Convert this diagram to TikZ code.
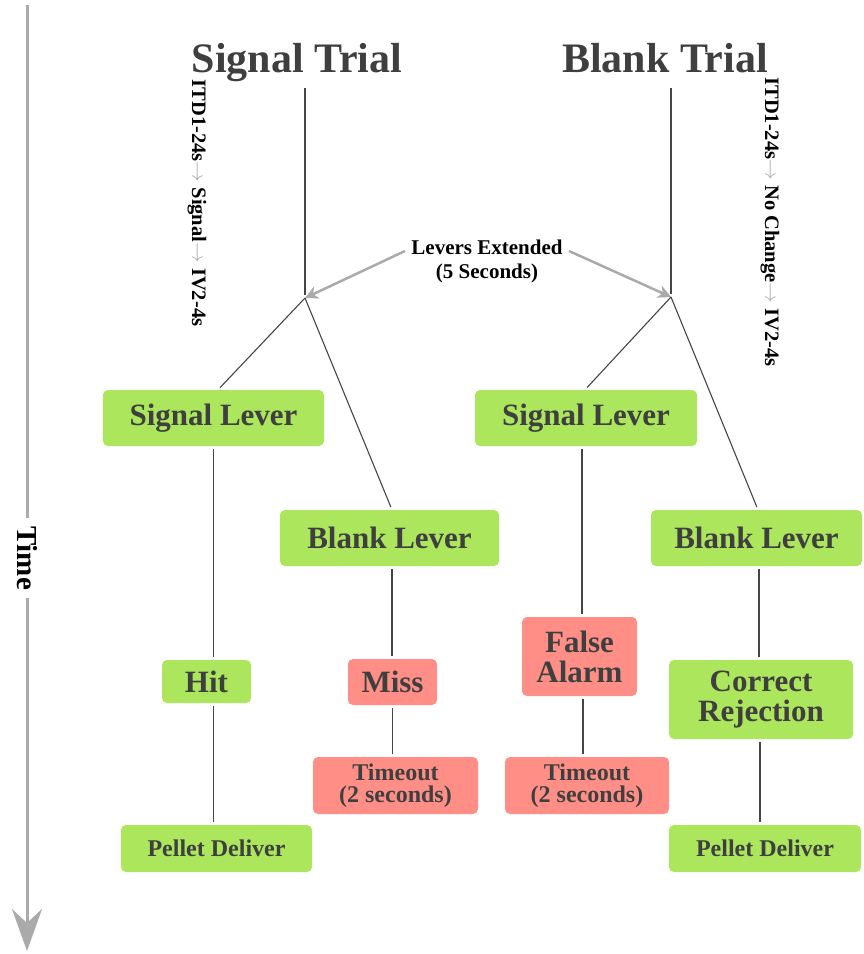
\documentclass[tikz,border=0pt]{standalone}
\usepackage{fontspec}
\setmainfont{Liberation Serif}
\usetikzlibrary{arrows.meta}
\definecolor{boxgreen}{HTML}{ABE65C}
\definecolor{boxred}{HTML}{FF8F86}
\definecolor{txtgray}{HTML}{3F3F3F}
\definecolor{linegray}{HTML}{454545}
\definecolor{arrgray}{HTML}{AAAAAA}
\newcommand{\arr}{{\color{arrgray}$\rightarrow$}}
\tikzset{
  gbox/.style={fill=boxgreen, rounded corners=5pt, inner sep=0pt, align=center,
    text=txtgray, font=\bfseries\fontsize{31}{30}\selectfont},
  rbox/.style={gbox, fill=boxred},
  small/.style={font=\bfseries\fontsize{24}{22}\selectfont},
  title/.style={text=txtgray, font=\bfseries\fontsize{42}{42}\selectfont, inner sep=0pt, anchor=base},
  conn/.style={draw=linegray, line width=1.8pt, shorten <=3pt, shorten >=3pt},
  diag/.style={draw=linegray, line width=1.1pt, shorten >=3pt},
  garr/.style={draw=arrgray, line width=2.5pt, -{Stealth[length=13pt,width=13pt,inset=4pt]}},
  vtext/.style={rotate=-90, font=\bfseries\fontsize{20.5}{20}\selectfont, inner sep=0pt},
}
\begin{document}
\begin{tikzpicture}[x=1pt,y=-1pt]
\useasboundingbox (0,0) rectangle (864,954);
% time axis
\coordinate (tTop) at (27,5);
\coordinate (tBot) at (27,951);
\draw[draw=arrgray, line width=3pt, -{Stealth[length=42pt,width=30pt,inset=14pt]}] (tTop) -- (tBot);
\node[fill=white, rotate=-90, inner xsep=8pt, inner ysep=2pt, font=\bfseries\fontsize{29}{29}\selectfont] (time) at (27,558) {Time};
% titles
\node[title] (st) at (297,72) {Signal Trial};
\node[title] (bt) at (665,72) {Blank Trial};
\coordinate (sTop) at (305,88);
\coordinate (bTop) at (671,88);
\coordinate (bs) at (305,298);
\coordinate (bb) at (671,297);
\draw[diag] (sTop) -- (bs);
\draw[diag] (bTop) -- (bb);
% vertical texts
\node[vtext] (vl) at (197,203) {ITD1-24s\arr{} Signal\arr{} IV2-4s};
\node[vtext] (vr) at (770,222) {ITD1-24s\arr{} No Change\arr{} IV2-4s};
% levers extended
\node[align=center, font=\bfseries\fontsize{21}{24}\selectfont, inner sep=2pt] (lev) at (487,261) {Levers Extended\\(5 Seconds)};
\coordinate (levL) at (405,251);
\coordinate (levR) at (569,251);
\draw[garr] (levL) -- (bs);
\draw[garr] (levR) -- (bb);
% boxes
\node[gbox, minimum width=221pt, minimum height=56pt] (sigL) at (213.5,418) {Signal Lever};
\node[gbox, minimum width=219pt, minimum height=56pt] (blkL) at (389.5,538) {Blank Lever};
\node[gbox, minimum width=222pt, minimum height=56pt] (sigR) at (586,418) {Signal Lever};
\node[gbox, minimum width=211pt, minimum height=56pt] (blkR) at (756.5,538) {Blank Lever};
\node[gbox, minimum width=89pt, minimum height=43pt] (hit) at (206.5,681.5) {Hit};
\node[rbox, minimum width=89pt, minimum height=46pt] (miss) at (392.5,682) {Miss};
\node[rbox, minimum width=115pt, minimum height=79pt] (fa) at (579.5,656.5) {False\\Alarm};
\node[rbox, small, minimum width=165pt, minimum height=57pt] (to1) at (395.5,785.5) {Timeout\\(2 seconds)};
\node[rbox, small, minimum width=164pt, minimum height=57pt] (to2) at (587,785.5) {Timeout\\(2 seconds)};
\node[gbox, minimum width=184pt, minimum height=79pt] (cr) at (761,699.5) {Correct\\Rejection};
\node[gbox, small, minimum width=191pt, minimum height=47pt] (pd1) at (216.5,848.5) {Pellet Deliver};
\node[gbox, small, minimum width=192pt, minimum height=47pt] (pd2) at (765,848.5) {Pellet Deliver};
% diagonals
\draw[diag] (bs) -- ([xshift=4.5pt]sigL.north);
\draw[diag] (bs) -- ([xshift=2.5pt]blkL.north);
\draw[diag] (bb) -- ([xshift=-1pt]sigR.north);
\draw[diag] (bb) -- ([xshift=1.5pt]blkR.north);
% verticals
\draw[conn] (sigL.south) -- (sigL.south |- hit.north);
\draw[conn] (sigL.south |- hit.south) -- (sigL.south |- pd1.north);
\draw[conn] ([xshift=2.5pt]blkL.south) -- ([xshift=2.5pt]blkL.south |- miss.north);
\draw[conn] (miss.south) -- (miss.south |- to1.north);
\draw[conn] ([xshift=-4pt]sigR.south) -- ([xshift=-4pt]sigR.south |- fa.north);
\draw[conn] ([xshift=3.5pt]fa.south) -- ([xshift=3.5pt]fa.south |- to2.north);
\draw[conn] ([xshift=2.5pt]blkR.south) -- ([xshift=2.5pt]blkR.south |- cr.north);
\draw[conn] ([xshift=-1pt]cr.south) -- ([xshift=-1pt]cr.south |- pd2.north);
\end{tikzpicture}
\end{document}
